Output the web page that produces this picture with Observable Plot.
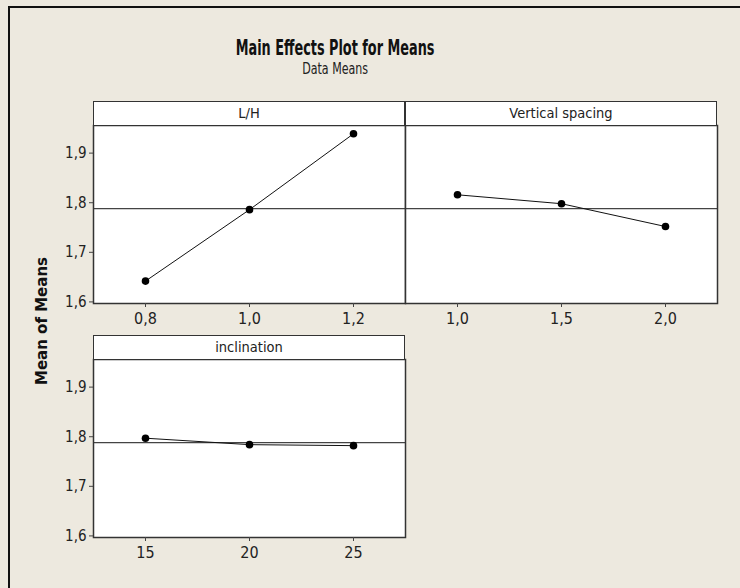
<!DOCTYPE html>
<html>
<head>
<meta charset="utf-8">
<script src="https://cdn.jsdelivr.net/npm/d3@7"></script>
<script src="https://cdn.jsdelivr.net/npm/@observablehq/plot@0.6"></script>
<style>
  html, body { margin: 0; padding: 0; background: #ede9df; overflow: hidden; }
  body { width: 740px; height: 588px; position: relative; font-family: "DejaVu Sans Condensed", "DejaVu Sans", sans-serif; }
  #lineTop { position: absolute; left: 8px; top: 6px; width: 732px; height: 2px; background: #111; }
  #lineLeft { position: absolute; left: 8px; top: 6px; width: 2px; height: 582px; background: #111; }
  .title { position: absolute; left: 0; width: 670px; text-align: center; color: #111; }
  .title span { display: inline-block; transform-origin: center; }
  #t1 { top: 36px; font-weight: bold; font-size: 21px; }
  #t1 span { transform: scaleX(0.68); }
  #t2 { top: 60px; font-size: 15px; color: #222; }
  #t2 span { transform: scaleX(0.82); }
  .strip { position: absolute; background: #fff; border: 1.5px solid #333; box-sizing: border-box; text-align: center; font-size: 14.5px; color: #222; line-height: 22px; }
  .panel { position: absolute; }
  #ylab { position: absolute; left: 42px; top: 321px; transform: translate(-50%, -50%) rotate(-90deg); font-family: "DejaVu Sans", sans-serif; font-weight: bold; font-size: 15px; color: #111; white-space: nowrap; }
</style>
</head>
<body>
<div id="lineTop"></div>
<div id="lineLeft"></div>
<div class="title" id="t1"><span>Main Effects Plot for Means</span></div>
<div class="title" id="t2"><span>Data Means</span></div>
<div id="ylab">Mean of Means</div>
<div id="root"></div>
<script>
// ---- data ----
const factorNames = ["L/H", "Vertical spacing", "inclination"];
const lhLevels = [0.8, 1.0, 1.2];
const lhMeans = [1.642, 1.786, 1.939];
const vsLevels = [1.0, 1.5, 2.0];
const vsMeans = [1.816, 1.798, 1.752];
const incLevels = [15, 20, 25];
const incMeans = [1.797, 1.784, 1.782];
const grandMean = 1.788;
const yTicks = [1.6, 1.7, 1.8, 1.9];
const lhTicks = [0.8, 1.0, 1.2];
const vsTicks = [1.0, 1.5, 2.0];
const incTicks = [15, 20, 25];

const comma1 = v => d3.format(".1f")(v).replace(".", ",");
const intFmt = v => String(v);

const yDomain = [1.5968, 1.9557];
const frameW = 312, frameH = 178;
const mL = 60, mB = 40;

function panel({name, levels, means, ticks, fmt, xDomain, left, top, showY}) {
  const data = levels.map((x, i) => ({x, y: means[i]}));
  const marks = [
    Plot.ruleY([grandMean], {stroke: "#444", strokeWidth: 1.2}),
    Plot.line(data, {x: "x", y: "y", stroke: "#111", strokeWidth: 1}),
    Plot.dot(data, {x: "x", y: "y", r: 3.8, fill: "#000", stroke: "none"}),
    Plot.frame({stroke: "#333", strokeWidth: 1.5}),
    Plot.axisX({ticks, tickFormat: fmt, tickSize: 4, tickPadding: 5, fontSize: 16, stroke: "#444", fill: "#222", label: null})
  ];
  if (showY) marks.push(Plot.axisY({ticks: yTicks, tickFormat: comma1, tickSize: 4, tickPadding: 3, fontSize: 15, stroke: "#444", fill: "#222", label: null}));
  const chart = Plot.plot({
    width: mL + frameW, height: frameH + mB,
    marginLeft: mL, marginRight: 0, marginTop: 0, marginBottom: mB,
    x: {domain: xDomain, axis: null},
    y: {domain: yDomain, axis: null},
    style: {background: "transparent", fontFamily: "'DejaVu Sans Condensed', 'DejaVu Sans', sans-serif", overflow: "visible"},
    marks
  });
  const bg = document.createElementNS("http://www.w3.org/2000/svg", "rect");
  bg.setAttribute("x", mL); bg.setAttribute("y", 0);
  bg.setAttribute("width", frameW); bg.setAttribute("height", frameH);
  bg.setAttribute("fill", "#fff");
  chart.insertBefore(bg, chart.firstChild);
  chart.classList.add("panel");
  chart.style.left = (left - mL) + "px";
  chart.style.top = top + "px";
  document.getElementById("root").appendChild(chart);
  const strip = document.createElement("div");
  strip.className = "strip";
  strip.textContent = name;
  strip.style.left = left + "px";
  strip.style.top = (top - 24) + "px";
  strip.style.width = frameW + "px";
  strip.style.height = "25px";
  document.getElementById("root").appendChild(strip);
}

panel({name: factorNames[0], levels: lhLevels, means: lhMeans, ticks: lhTicks, fmt: comma1, xDomain: [0.7, 1.3], left: 93, top: 125, showY: true});
panel({name: factorNames[1], levels: vsLevels, means: vsMeans, ticks: vsTicks, fmt: comma1, xDomain: [0.75, 2.25], left: 405, top: 125, showY: false});
panel({name: factorNames[2], levels: incLevels, means: incMeans, ticks: incTicks, fmt: intFmt, xDomain: [12.5, 27.5], left: 93, top: 359, showY: true});
</script>
</body>
</html>
